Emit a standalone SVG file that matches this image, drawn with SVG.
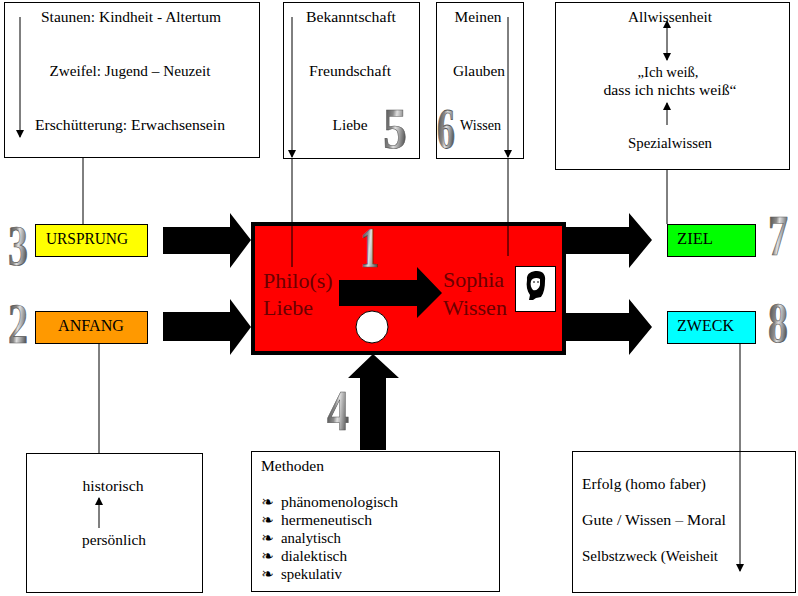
<svg xmlns="http://www.w3.org/2000/svg" width="798" height="596" viewBox="0 0 798 596">
<style>
.box{fill:#fff;stroke:#000;stroke-width:1}
.t{font-family:"Liberation Serif","Times New Roman",serif;font-size:15px;fill:#000}
.m{text-anchor:middle}
.lab{font-family:"Liberation Serif","Times New Roman",serif;font-size:16px;fill:#000}
.big{font-family:"Liberation Serif","Times New Roman",serif;font-size:22px;fill:#6b0000}
.num{font-family:"Liberation Serif","Times New Roman",serif;font-weight:bold;fill:url(#g);stroke:#555;stroke-width:0.5}
.ln{stroke:#000;stroke-width:1;fill:none}
.blk{fill:#000}
.bul{font-family:"DejaVu Sans",sans-serif;font-size:15px;fill:#000}
</style>
<defs>
<linearGradient id="g" x1="0" y1="0" x2="1" y2="0.3">
<stop offset="0" stop-color="#3e3e3e"/>
<stop offset="0.45" stop-color="#8a8a8a"/>
<stop offset="0.6" stop-color="#e0e0e0"/>
<stop offset="1" stop-color="#5e5e5e"/>
</linearGradient>
<marker id="ah" viewBox="0 0 8 8" refX="7" refY="4" markerWidth="8" markerHeight="8" markerUnits="userSpaceOnUse" orient="auto">
<path d="M0,0 L8,4 L0,8 z" fill="#000"/>
</marker>
<marker id="as" viewBox="0 0 8 8" refX="0" refY="4" markerWidth="8" markerHeight="8" markerUnits="userSpaceOnUse" orient="auto-start-reverse">
<path d="M0,0 L8,4 L0,8 z" fill="#000"/>
</marker>
</defs>

<g id="connectors">
<line class="ln" x1="83" y1="158" x2="83" y2="224"/>
<line class="ln" x1="292" y1="157" x2="292" y2="267"/>
<line class="ln" x1="508" y1="157" x2="508" y2="256"/>
<line class="ln" x1="667" y1="170" x2="667" y2="224"/>
<line class="ln" x1="99" y1="343" x2="99" y2="453"/>
<polygon class="blk" points="163,227 230,227 230,213 251,240 230,268 230,254 163,254"/>
<polygon class="blk" points="163,312 230,312 230,299 251,327 230,355 230,341 163,341"/>
<polygon class="blk" points="566,227 629,227 629,213 652,240 629,268 629,254 566,254"/>
<polygon class="blk" points="566,313 629,313 629,299 652,327 629,355 629,341 566,341"/>
<polygon class="blk" points="360,450 360,378 348,378 373,354 399,378 386,378 386,450"/>
</g>

<g id="n-stages">
<rect class="box" x="4.5" y="2.5" width="255" height="155"/>
<line class="ln" x1="20" y1="17" x2="20" y2="137" marker-end="url(#ah)"/>
<text class="t m" x="131" y="22" textLength="180" lengthAdjust="spacingAndGlyphs">Staunen: Kindheit - Altertum</text>
<text class="t m" x="130" y="76" textLength="161" lengthAdjust="spacingAndGlyphs">Zweifel: Jugend – Neuzeit</text>
<text class="t m" x="130" y="130" textLength="190" lengthAdjust="spacingAndGlyphs">Erschütterung: Erwachsensein</text>
</g>

<g id="n-liebe">
<rect class="box" x="283.5" y="2.5" width="136" height="156"/>
<line class="ln" x1="292" y1="17" x2="292" y2="157" marker-end="url(#ah)"/>
<text class="t m" x="351" y="22" textLength="90" lengthAdjust="spacingAndGlyphs">Bekanntschaft</text>
<text class="t m" x="350" y="76" textLength="82" lengthAdjust="spacingAndGlyphs">Freundschaft</text>
<text class="t m" x="350" y="130" textLength="35" lengthAdjust="spacingAndGlyphs">Liebe</text>
</g>

<g id="n-wissen">
<rect class="box" x="436.5" y="2.5" width="87" height="156"/>
<line class="ln" x1="508" y1="17" x2="508" y2="157" marker-end="url(#ah)"/>
<text class="t m" x="478" y="22" textLength="47" lengthAdjust="spacingAndGlyphs">Meinen</text>
<text class="t m" x="479" y="76" textLength="52" lengthAdjust="spacingAndGlyphs">Glauben</text>
<text class="t" x="460" y="130" textLength="41" lengthAdjust="spacingAndGlyphs">Wissen</text>
</g>

<g id="n-allwissen">
<rect class="box" x="555.5" y="2.5" width="234" height="167"/>
<text class="t m" x="670" y="22" textLength="84" lengthAdjust="spacingAndGlyphs">Allwissenheit</text>
<line class="ln" x1="667" y1="28" x2="667" y2="60" marker-start="url(#as)" marker-end="url(#ah)"/>
<text class="t m" x="668" y="77" textLength="61" lengthAdjust="spacingAndGlyphs">„Ich weiß,</text>
<text class="t m" x="670" y="95" textLength="133" lengthAdjust="spacingAndGlyphs">dass ich nichts weiß“</text>
<line class="ln" x1="667" y1="125" x2="667" y2="103" marker-end="url(#ah)"/>
<text class="t m" x="670" y="148" textLength="84" lengthAdjust="spacingAndGlyphs">Spezialwissen</text>
</g>

<g id="n-ursprung">
<rect x="35.5" y="224.5" width="112" height="32" fill="#ffff00" stroke="#000"/>
<text class="lab" x="46" y="244" textLength="82" lengthAdjust="spacingAndGlyphs">URSPRUNG</text>
</g>

<g id="n-anfang">
<rect x="35.5" y="311.5" width="112" height="32" fill="#ff9900" stroke="#000"/>
<text class="lab" x="58" y="331" textLength="66" lengthAdjust="spacingAndGlyphs">ANFANG</text>
</g>

<g id="n-ziel">
<rect x="667.5" y="224.5" width="88" height="32" fill="#00ff00" stroke="#000"/>
<text class="lab" x="677" y="244" textLength="36" lengthAdjust="spacingAndGlyphs">ZIEL</text>
</g>

<g id="n-zweck">
<rect x="667.5" y="311.5" width="88" height="32" fill="#00ffff" stroke="#000"/>
<text class="lab" x="677" y="331" textLength="57" lengthAdjust="spacingAndGlyphs">ZWECK</text>
</g>

<g id="n-philosophie">
<rect x="253" y="224" width="311" height="129" fill="#ff0000" stroke="#000" stroke-width="4"/>
<line class="ln" x1="292" y1="224" x2="292" y2="267"/>
<line class="ln" x1="508" y1="224" x2="508" y2="256"/>
<text class="big" x="263" y="288">Philo(s)</text>
<text class="big" x="263" y="315">Liebe</text>
<text class="big" x="443" y="287">Sophia</text>
<text class="big" x="443" y="315">Wissen</text>
<polygon class="blk" points="339,280 417,280 417,267 442,293 417,318 417,306 339,306"/>
<circle cx="372" cy="327" r="16" fill="#fff" stroke="#000" stroke-width="1"/>
<rect x="515.5" y="266.5" width="40" height="45" fill="#fff" stroke="#000"/>
<path d="M527,280 C526,273 532,271 537,271 C543,271 546,275 545,281 C545,287 544,293 541,297 L536,298 L533,300 L529,300 L530,295 C527,291 526,286 527,280 Z" fill="#000"/>
<path d="M531,281 C532,278 537,277 540,279 L540,285 C539,289 536,291 533,290 C531,288 530,285 531,281 Z" fill="#fff"/>
<path d="M533,282 L535,282 M537,282 L539,282" stroke="#000" stroke-width="1"/>
<path d="M531,289 C533,293 537,293 540,288 L540,293 C537,296 533,296 531,293 Z" fill="#000"/>
</g>

<g id="n-herkunft">
<rect class="box" x="26.5" y="453.5" width="176" height="139"/>
<text class="t m" x="113" y="491" textLength="61" lengthAdjust="spacingAndGlyphs">historisch</text>
<line class="ln" x1="99" y1="528" x2="99" y2="498" marker-end="url(#ah)"/>
<text class="t m" x="114" y="545" textLength="64" lengthAdjust="spacingAndGlyphs">persönlich</text>
</g>

<g id="n-methoden">
<rect class="box" x="251.5" y="451.5" width="248" height="140"/>
<text class="t" x="261" y="471" textLength="63" lengthAdjust="spacingAndGlyphs">Methoden</text>
<text class="bul" x="261" y="507">❧</text>
<text class="t" x="281" y="507" textLength="117" lengthAdjust="spacingAndGlyphs">phänomenologisch</text>
<text class="bul" x="261" y="525">❧</text>
<text class="t" x="281" y="525" textLength="91" lengthAdjust="spacingAndGlyphs">hermeneutisch</text>
<text class="bul" x="261" y="543">❧</text>
<text class="t" x="281" y="543" textLength="60" lengthAdjust="spacingAndGlyphs">analytisch</text>
<text class="bul" x="261" y="561">❧</text>
<text class="t" x="281" y="561" textLength="66" lengthAdjust="spacingAndGlyphs">dialektisch</text>
<text class="bul" x="261" y="579">❧</text>
<text class="t" x="281" y="579" textLength="61" lengthAdjust="spacingAndGlyphs">spekulativ</text>
</g>

<g id="n-zwecke">
<rect class="box" x="572.5" y="451.5" width="223" height="141"/>
<line class="ln" x1="740" y1="343" x2="740" y2="571" marker-end="url(#ah)"/>
<text class="t" x="582" y="489" textLength="124" lengthAdjust="spacingAndGlyphs">Erfolg (homo faber)</text>
<text class="t" x="582" y="525" textLength="144" lengthAdjust="spacingAndGlyphs">Gute / Wissen – Moral</text>
<text class="t" x="582" y="561" textLength="136" lengthAdjust="spacingAndGlyphs">Selbstzweck (Weisheit</text>
</g>

<g id="numbers">
<text class="num" font-size="40" transform="translate(8,265) scale(1,1.4)">3</text>
<text class="num" font-size="40" transform="translate(8,343) scale(1,1.4)">2</text>
<text class="num" font-size="48" transform="translate(383,148) scale(1,1.167)">5</text>
<text class="num" font-size="36" transform="translate(437,148) scale(1,1.556)">6</text>
<text class="num" font-size="38" transform="translate(360,267) scale(1,1.474)">1</text>
<text class="num" font-size="44" transform="translate(327,430) scale(1,1.273)">4</text>
<text class="num" font-size="40" transform="translate(768,255) scale(1,1.4)">7</text>
<text class="num" font-size="40" transform="translate(768,342) scale(1,1.4)">8</text>
</g>
</svg>
